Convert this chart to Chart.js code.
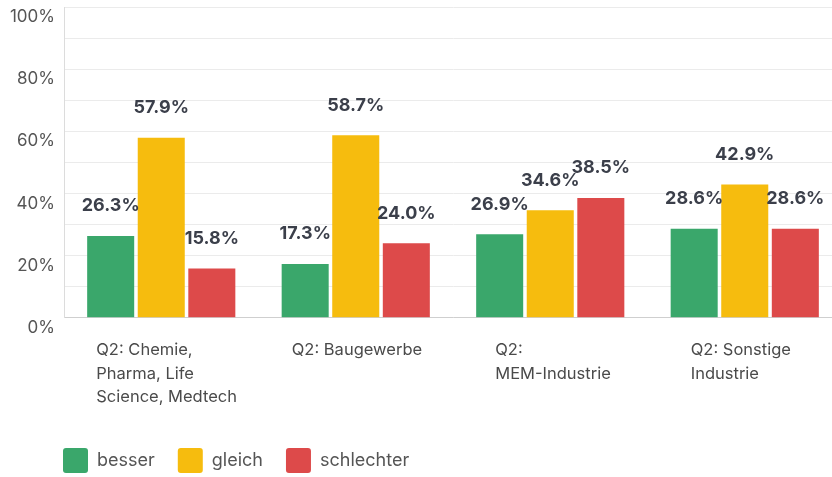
<!DOCTYPE html>
<html>
<head>
<meta charset="utf-8">
<script src="https://cdn.jsdelivr.net/npm/chart.js@4/dist/chart.umd.min.js"></script>
<style>
    html, body { margin: 0; padding: 0; background: #fff; overflow: hidden; }
    #wrap { width: 842px; height: 477px; }
</style>
</head>
<body>
<div id="wrap"><canvas id="chart" width="842" height="477"></canvas></div>
<script>
// categories + series
const categories = [
    ["Q2: Chemie,", "Pharma, Life", "Science, Medtech"],
    ["Q2: Baugewerbe"],
    ["Q2:", "MEM-Industrie"],
    ["Q2: Sonstige", "Industrie"],
];
const seriesNames = ["besser", "gleich", "schlechter"];
const besser = [26.3, 17.3, 26.9, 28.6];
const gleich = [57.9, 58.7, 34.6, 42.9];
const schlechter = [15.8, 24.0, 38.5, 28.6];
const yTicks = [0, 20, 40, 60, 80, 100];

const colors = ["#3aa76b", "#f6bc0e", "#dd4a4a"];
const labelShift = [-65, -64, -55, -54]; // x label start relative to group centre
const FONT = "Inter, 'Noto Sans', sans-serif";

// value labels above each bar
const valueLabels = {
    id: "valueLabels",
    afterDatasetsDraw(chart) {
        const ctx = chart.ctx;
        ctx.save();
        ctx.font = "bold 18px " + FONT;
        ctx.fillStyle = "#3b3f4a";
        ctx.textAlign = "center";
        ctx.textBaseline = "middle";
        chart.data.datasets.forEach((ds, i) => {
            chart.getDatasetMeta(i).data.forEach((bar, j) => {
                ctx.fillText(ds.data[j].toFixed(1) + "%", bar.x, bar.y - 30);
            });
        });
        ctx.restore();
    },
};

// legend under the plot's left edge, x labels left-aligned per group
const tweakLayout = {
    id: "tweakLayout",
    afterLayout(chart) {
        const lg = chart.legend;
        if (lg) {
            const dx = 40, dy = -5;
            lg.left += dx;
            lg.right += dx;
            lg.top += dy;
            lg.bottom += dy;
        }
    },
    beforeDraw(chart) {
        const items = chart.scales.x.getLabelItems();
        items.forEach((it, i) => {
            if (!it._shifted) {
                it.options.translation[0] += labelShift[i] || 0;
                it._shifted = true;
            }
        });
    },
};

new Chart(document.getElementById("chart"), {
    type: "bar",
    data: {
        labels: categories,
        datasets: [
            { label: seriesNames[0], data: besser, backgroundColor: colors[0] },
            { label: seriesNames[1], data: gleich, backgroundColor: colors[1] },
            { label: seriesNames[2], data: schlechter, backgroundColor: colors[2] },
        ],
    },
    options: {
        responsive: false,
        animation: false,
        categoryPercentage: 0.78,
        barPercentage: 0.93,
        layout: { padding: { top: 7, right: 0, bottom: -11, left: 0 } },
        plugins: {
            tooltip: { enabled: false },
            legend: {
                position: "bottom",
                align: "start",
                labels: {
                    boxWidth: 25,
                    boxHeight: 25,
                    useBorderRadius: true,
                    borderRadius: 3,
                    padding: 23,
                    color: "#555",
                    font: { family: FONT, size: 18 },
                },
            },
        },
        scales: {
            x: {
                afterFit(scale) { scale.paddingLeft = 0; scale.paddingRight = 0; },
                grid: { display: false, drawTicks: false },
                border: { color: "#cfcfcf" },
                ticks: {
                    autoSkip: false,
                    maxRotation: 0,
                    align: "start",
                    padding: 21,
                    color: "#4a4a4a",
                    font: { family: FONT, size: 16.5, lineHeight: 1.42 },
                },
            },
            y: {
                min: 0,
                max: 100,
                afterFit(scale) {
                    scale.width = 64;
                    scale.paddingTop = 0;
                    scale.paddingBottom = 0;
                },
                grid: { color: "#ebebeb", drawTicks: false },
                border: { color: "#dcdcdc" },
                ticks: {
                    stepSize: 10,
                    padding: 9,
                    labelOffset: 10,
                    color: "#555",
                    font: { family: FONT, size: 17 },
                    callback: v => yTicks.includes(v) ? v + "%" : "",
                },
            },
        },
    },
    plugins: [valueLabels, tweakLayout],
});
</script>
</body>
</html>
